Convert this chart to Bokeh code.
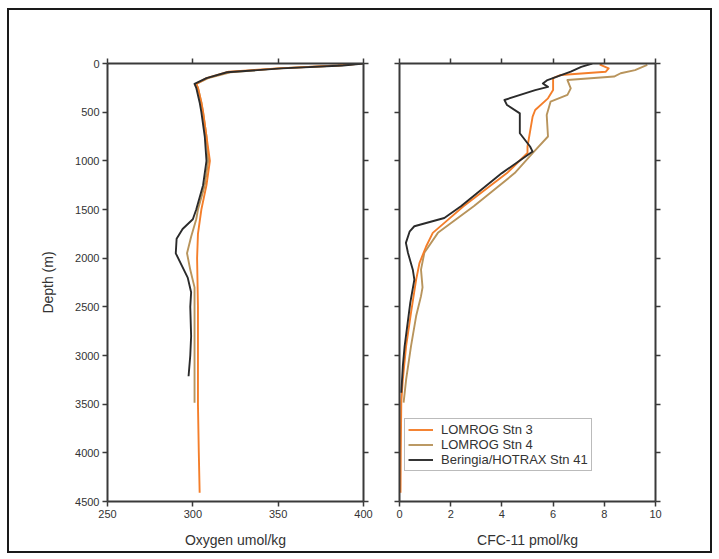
from bokeh.plotting import figure
from bokeh.layouts import row
from bokeh.models import Range1d, FixedTicker, LinearAxis, Legend, LegendItem
from bokeh.embed import file_html
from bokeh.resources import INLINE

# ---------------- data ----------------
series_names = ["LOMROG Stn 3", "LOMROG Stn 4", "Beringia/HOTRAX Stn 41"]
series_colors = ["#f47e2a", "#b8945c", "#2b2b2b"]

# Oxygen (umol/kg) vs depth (m)
o2_stn3_depth = [0, 20, 50, 85, 150, 210, 250, 400, 500, 750, 1000, 1250, 1500, 1750, 2000, 2500, 3000, 3500, 4000, 4410]
o2_stn3_value = [399, 385, 350, 321, 308, 302, 303, 305, 306, 308, 310, 308, 305, 303, 302.5, 303, 303, 303, 303.5, 304]

o2_stn4_depth = [0, 20, 50, 90, 150, 210, 250, 400, 500, 750, 1000, 1250, 1500, 1600, 1780, 1950, 2120, 2300, 2500, 3000, 3485]
o2_stn4_value = [398, 385, 350, 322, 309, 302, 303, 305, 306, 308, 309, 307, 303, 302, 299, 296.6, 298.5, 301, 301, 301, 301]

o2_stn41_depth = [0, 20, 50, 90, 150, 210, 250, 400, 500, 750, 1000, 1250, 1500, 1600, 1700, 1800, 1950, 2200, 2350, 2500, 2800, 3000, 3213]
o2_stn41_value = [400, 388, 352, 320, 308, 301, 302, 304, 305, 307, 308, 306, 302, 300, 294, 290.5, 290, 297, 299, 298.5, 299, 298.5, 297.5]

# CFC-11 (pmol/kg) vs depth (m)
cfc_stn3_depth = [0, 15, 50, 85, 118, 150, 273, 358, 478, 546, 853, 920, 1126, 1467, 1604, 1740, 1880, 2050, 2220, 2560, 2900, 3245, 3480, 4000, 4410]
cfc_stn3_value = [7.9, 7.85, 8.17, 8.05, 6.3, 6.0, 6.0, 5.8, 5.3, 5.2, 5.0, 5.0, 4.2, 2.5, 1.9, 1.3, 1.04, 0.78, 0.65, 0.45, 0.26, 0.13, 0.07, 0.05, 0.04]

cfc_stn4_depth = [15, 68, 100, 134, 170, 255, 323, 392, 528, 750, 920, 1126, 1467, 1740, 1945, 2118, 2300, 2390, 2595, 2903, 3245, 3485]
cfc_stn4_value = [9.68, 9.2, 8.64, 8.38, 6.56, 6.69, 6.56, 5.9, 5.75, 5.8, 5.2, 4.5, 2.9, 1.5, 0.97, 0.84, 0.9, 0.84, 0.65, 0.45, 0.26, 0.16]

cfc_stn41_depth = [0, 34, 84, 170, 205, 240, 273, 375, 427, 512, 717, 853, 905, 1126, 1467, 1587, 1672, 1724, 1843, 1945, 2118, 2220, 2460, 2905, 3110, 3383]
cfc_stn41_value = [7.53, 7.1, 6.69, 5.78, 5.6, 5.8, 5.3, 4.1, 4.2, 4.7, 4.7, 5.1, 5.2, 4.0, 2.4, 1.75, 0.58, 0.4, 0.25, 0.33, 0.52, 0.58, 0.42, 0.2, 0.13, 0.07]

depth_ticks = [0, 500, 1000, 1500, 2000, 2500, 3000, 3500, 4000, 4500]
o2_ticks = [250, 300, 350, 400]
cfc_ticks = [0, 2, 4, 6, 8, 10]

FONT = "Liberation Sans"
AX_COLOR = "#3a3a3a"
TXT = "#333333"


def style_axis(ax, labels=True):
    ax.axis_line_color = AX_COLOR
    ax.axis_line_width = 2
    ax.major_tick_line_color = AX_COLOR
    ax.major_tick_line_width = 1.5
    ax.major_tick_in = 0
    ax.major_tick_out = 5
    ax.minor_tick_line_color = None
    ax.major_label_text_font = FONT
    ax.axis_label_text_font = FONT
    ax.axis_label_text_color = TXT
    ax.axis_label_text_font_style = "normal"
    ax.axis_label_text_font_size = "14px"
    if labels:
        ax.major_label_text_color = TXT
        ax.major_label_text_font_size = "11px"
        ax.major_label_standoff = 3
    else:
        ax.major_label_text_color = None
        ax.major_label_text_font_size = "1px"
        ax.major_label_standoff = 0


def make_fig(xr, xticks, xlabel, show_ylabels, bl, br):
    p = figure(output_backend="svg", toolbar_location=None,
               frame_width=256, frame_height=438,
               x_range=Range1d(*xr), y_range=Range1d(4500, 0),
               min_border_left=bl, min_border_right=br,
               min_border_top=53, min_border_bottom=50,
               background_fill_color="white", border_fill_color="white")
    p.outline_line_color = None
    p.xgrid.visible = False
    p.ygrid.visible = False
    p.xaxis.ticker = FixedTicker(ticks=xticks)
    p.yaxis.ticker = FixedTicker(ticks=depth_ticks)
    p.xaxis.axis_label = xlabel
    p.xaxis.axis_label_standoff = 11
    style_axis(p.xaxis[0])
    style_axis(p.yaxis[0], labels=show_ylabels)
    if show_ylabels:
        p.yaxis.axis_label = "Depth (m)"
        p.yaxis.axis_label_standoff = 16
    top = LinearAxis(ticker=FixedTicker(ticks=xticks))
    style_axis(top, labels=False)
    p.add_layout(top, "above")
    right = LinearAxis(ticker=FixedTicker(ticks=depth_ticks))
    style_axis(right, labels=False)
    p.add_layout(right, "right")
    return p


p1 = make_fig((250, 400), o2_ticks, "Oxygen umol/kg", True, 98, 18)
p2 = make_fig((0, 10), cfc_ticks, "CFC-11 pmol/kg", False, 18, 55)

o2_sets = [(o2_stn3_value, o2_stn3_depth), (o2_stn4_value, o2_stn4_depth), (o2_stn41_value, o2_stn41_depth)]
cfc_sets = [(cfc_stn3_value, cfc_stn3_depth), (cfc_stn4_value, cfc_stn4_depth), (cfc_stn41_value, cfc_stn41_depth)]

draw_order = [1, 0, 2]
for i in draw_order:
    x, y = o2_sets[i]
    p1.line(x, y, line_color=series_colors[i], line_width=1.9, line_join="round")

renderers = {}
for i in draw_order:
    x, y = cfc_sets[i]
    renderers[i] = p2.line(x, y, line_color=series_colors[i], line_width=1.9, line_join="round")

legend = Legend(items=[LegendItem(label=series_names[i], renderers=[renderers[i]]) for i in range(3)],
                location=(5, 30))
legend.label_text_font = FONT
legend.label_text_font_size = "13px"
legend.label_text_color = TXT
legend.label_height = 13
legend.glyph_height = 13
legend.glyph_width = 25
legend.label_standoff = 8
legend.spacing = 0
legend.padding = 3
legend.margin = 0
legend.border_line_color = "#777777"
legend.border_line_width = 1.5
legend.background_fill_color = "white"
legend.background_fill_alpha = 1
p2.add_layout(legend, "center")

layout = row(p1, p2, styles={"border": "2px solid #1a1a1a", "background-color": "white"},
             margin=(8, 0, 0, 7))

with open("out.html", "w") as f:
    f.write(file_html(layout, INLINE))
